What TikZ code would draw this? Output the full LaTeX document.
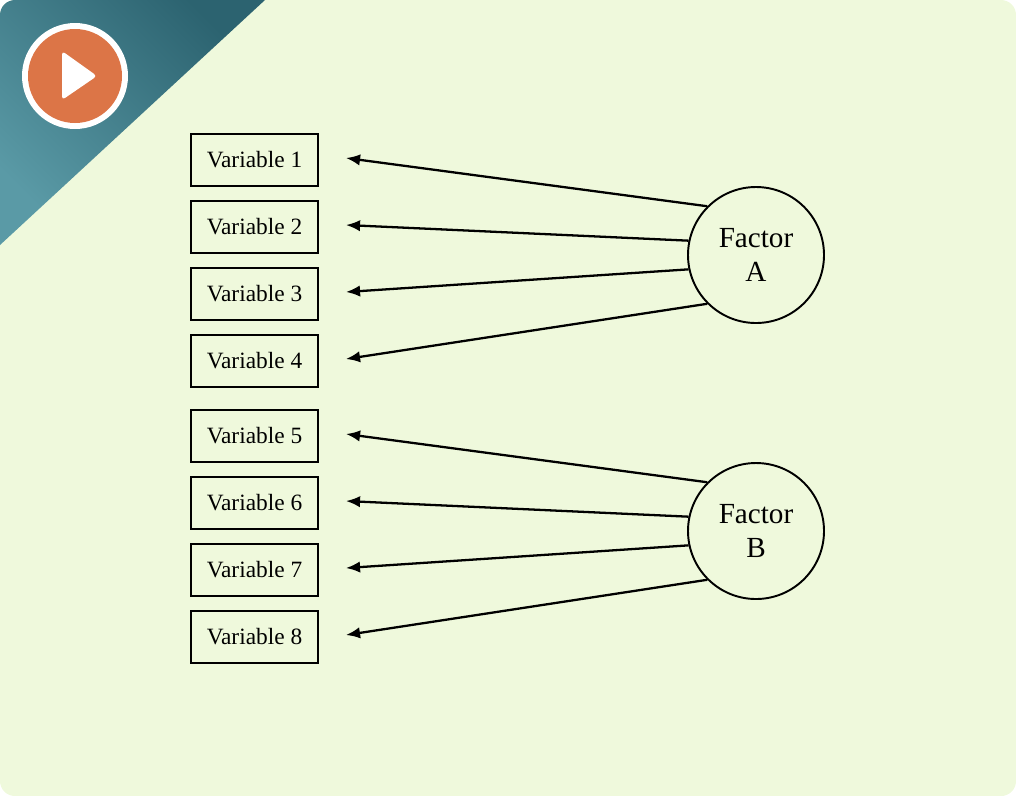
\documentclass[tikz,border=0pt]{standalone}
\usepackage{fontspec}
\setmainfont{Liberation Serif}
\usetikzlibrary{positioning,arrows.meta}
\definecolor{bgGreen}{HTML}{EFF9DC}
\definecolor{tealDark}{HTML}{2C6370}
\definecolor{tealLight}{HTML}{5A9AA6}
\definecolor{playOrange}{HTML}{DC7547}
\begin{document}
\begin{tikzpicture}[
  x=0.02cm, y=-0.02cm,
  > = {Latex[length=8pt,width=6.5pt]},
  varbox/.style = {draw, line width=1.2pt, minimum width=127*0.02cm, minimum height=52*0.02cm, inner sep=0pt, font=\fontsize{13.3}{15}\selectfont},
  factor/.style = {draw, circle, line width=1.1pt, minimum size=136*0.02cm, inner sep=0pt, align=center, font=\fontsize{16.6}{19}\selectfont},
  load/.style = {->, line width=1.3pt}
  ]
	% background and corner
	\useasboundingbox (0,0) rectangle (1016,796);
	\begin{scope}
	\clip[rounded corners=0.3cm] (0,0) rectangle (1016,796);
	\fill[bgGreen] (0,0) rectangle (1016,796);
	\shade[left color=tealLight, right color=tealDark, shading angle=135] (0,0) -- (265,0) -- (0,245) -- cycle;
	\end{scope}
	\fill[white] (75,76) circle (53);
	\fill[playOrange] (75,76) circle (47);
	\fill[white, rounded corners=2pt] (62,51) -- (97,76) -- (62,100) -- cycle;

	% variables
	\foreach \i/\y in {1/160,2/227,3/294,4/361,5/436,6/503,7/570,8/637}{
		\node[varbox] (v\i) at (254.5,\y) {Variable \i};
		\coordinate (t\i) at (346,\y-2);
	}

	% factors
	\node[factor] (fA) at (756,255) {Factor\\A};
	\node[factor] (fB) at (756,531) {Factor\\B};

	\draw[load] (fA.135) -- (t1);
	\draw[load] (fA.168) -- (t2);
	\draw[load] (fA.192) -- (t3);
	\draw[load] (fA.225) -- (t4);
	\draw[load] (fB.135) -- (t5);
	\draw[load] (fB.168) -- (t6);
	\draw[load] (fB.192) -- (t7);
	\draw[load] (fB.225) -- (t8);
\end{tikzpicture}
\end{document}
